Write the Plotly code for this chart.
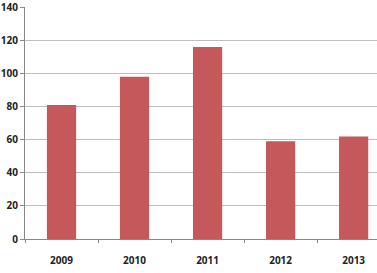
import plotly.graph_objects as go

years = ["2009", "2010", "2011", "2012", "2013"]
values = [81, 98, 116, 59, 62]
y_ticks = [0, 20, 40, 60, 80, 100, 120, 140]

fig = go.Figure(go.Bar(x=years, y=values, marker=dict(color="#C4585A", line=dict(width=0)), width=0.4))

fig.update_layout(
    width=377, height=273,
    margin=dict(l=25, r=0, t=5, b=34),
    paper_bgcolor="white", plot_bgcolor="white",
    showlegend=False,
    font=dict(family="Open Sans", size=10, color="#222"),
)
fig.update_xaxes(
    type="category", range=[-0.5, 4.32],
    showline=True, linecolor="#888", linewidth=1,
    ticks="outside", tickson="boundaries", ticklen=3, tickcolor="#888",
    tickfont=dict(family="Open Sans", size=10, color="#222", weight="bold"),
    ticklabelstandoff=12,
    showgrid=False,
)
fig.update_yaxes(
    range=[0, 140.2], tickvals=y_ticks,
    showline=True, linecolor="#888", linewidth=1,
    ticks="outside", ticklen=4, tickcolor="#888",
    showgrid=True, gridcolor="#bdbdbd", gridwidth=1,
    tickfont=dict(family="Open Sans", size=10, color="#222", weight="bold"),
    ticklabeloverflow="allow",
    zeroline=False,
)
fig.write_html("out.html")
